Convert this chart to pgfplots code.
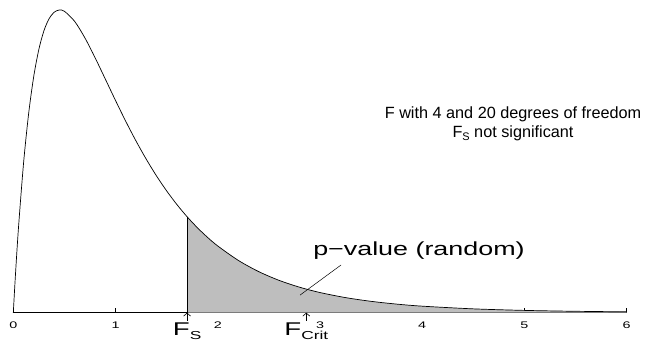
\documentclass[border=0pt]{standalone}
\usepackage{fontspec}
\setmainfont{Liberation Sans}
\usepackage{pgfplots}
\pgfplotsset{compat=1.18}
\usetikzlibrary{arrows.meta}
\definecolor{shade}{gray}{0.745}
\newcommand{\tl}[1]{\scalebox{1.5}[1]{#1}}
\begin{document}
\begin{tikzpicture}
\begin{axis}[
  scale only axis,
  width=613.4bp, height=302.7bp,
  xmin=0, xmax=6, ymin=0, ymax=0.704,
  axis x line=bottom, axis y line=none,
  x axis line style={-, line width=0.6pt},
  xtick={0,1,2,3,4,5,6},
  xticklabels={\tl{0},\tl{1},\tl{2},\tl{3},\tl{4},\tl{5},\tl{6}},
  tick align=inside,
  major tick length=5bp,
  tick style={black, line width=0.6pt},
  xticklabel style={font=\fontsize{9.6}{11}\selectfont, anchor=north, inner sep=0pt, yshift=-8.8bp},
  clip=false,
]
% shaded tail (p-value)
\addplot[fill=shade, draw=none, smooth] coordinates {
 (1.7,0.2232) (1.8,0.1978) (1.9,0.1752) (2.0,0.1552) (2.2,0.1218)
 (2.4,0.09562) (2.6,0.07521) (2.8,0.05932) (3.0,0.04690) (3.25,0.03512)
 (3.5,0.02644) (3.75,0.02000) (4.0,0.01522) (4.5,0.008946) (5.0,0.005371)
 (5.5,0.003289) (6.0,0.002053)} \closedcycle;
% density curve F(4,20)
\addplot[black, line width=0.7pt, smooth] coordinates {
 (0,0) (0.02,0.08388) (0.05,0.1953) (0.1,0.3469) (0.15,0.4629) (0.2,0.5496)
 (0.25,0.6125) (0.3,0.6560) (0.35,0.6838) (0.4,0.6989) (0.45,0.7040)
 (0.5,0.7010) (0.6,0.6776) (0.7,0.6393) (0.8,0.5930) (0.9,0.5434)
 (1.0,0.4935) (1.1,0.4451) (1.2,0.3995) (1.3,0.3572) (1.4,0.3184)
 (1.5,0.2833) (1.6,0.2516) (1.7,0.2232) (1.8,0.1978) (1.9,0.1752)
 (2.0,0.1552) (2.2,0.1218) (2.4,0.09562) (2.6,0.07521) (2.8,0.05932)
 (3.0,0.04690) (3.25,0.03512) (3.5,0.02644) (3.75,0.02000) (4.0,0.01522)
 (4.5,0.008946) (5.0,0.005371) (5.5,0.003289) (6.0,0.002053)};
% vertical line at F_S
\addplot[black, line width=0.7pt] coordinates {(1.7,0) (1.7,0.2232)};
% pointer line for p-value
\draw[black, line width=0.5pt] (axis cs:2.805,0.041) -- (axis cs:3.206,0.111);
\node[anchor=base west, inner sep=0, font=\fontsize{19}{20}\selectfont]
  at (axis cs:2.932,0.1342) {\scalebox{1.42}[1]{p−value (random)}};
\node[align=center, inner sep=0, font=\fontsize{16.3}{19}\selectfont]
  at (axis cs:4.888,0.4388) {F with 4 and 20 degrees of freedom\\F\raisebox{-3bp}{\fontsize{11}{11}\selectfont S} not significant};
% F_S and F_crit arrows and labels
\draw[-{Straight Barb[length=3bp,width=7bp]}, line width=0.6pt] ([yshift=-8bp]axis cs:1.7,0) -- (axis cs:1.7,0);
\draw[-{Straight Barb[length=3bp,width=7bp]}, line width=0.6pt] ([yshift=-8bp]axis cs:2.866,0) -- (axis cs:2.866,0);
\node[anchor=north, inner sep=0] at ([yshift=-10.3bp]axis cs:1.7,0)
  {\tl{\fontsize{18.5}{18.5}\selectfont F\raisebox{-3.3bp}{\fontsize{11.6}{11.6}\selectfont S}}};
\node[anchor=north, inner sep=0] at ([yshift=-10.3bp]axis cs:2.866,0)
  {\tl{\fontsize{18.5}{18.5}\selectfont F\raisebox{-3.3bp}{\fontsize{11.6}{11.6}\selectfont Crit}}};
\end{axis}
\pgfresetboundingbox
\path ([xshift=-13.3bp,yshift=-30.3bp]current axis.south west) rectangle ([xshift=19.3bp,yshift=10bp]current axis.north east);
\end{tikzpicture}
\end{document}
